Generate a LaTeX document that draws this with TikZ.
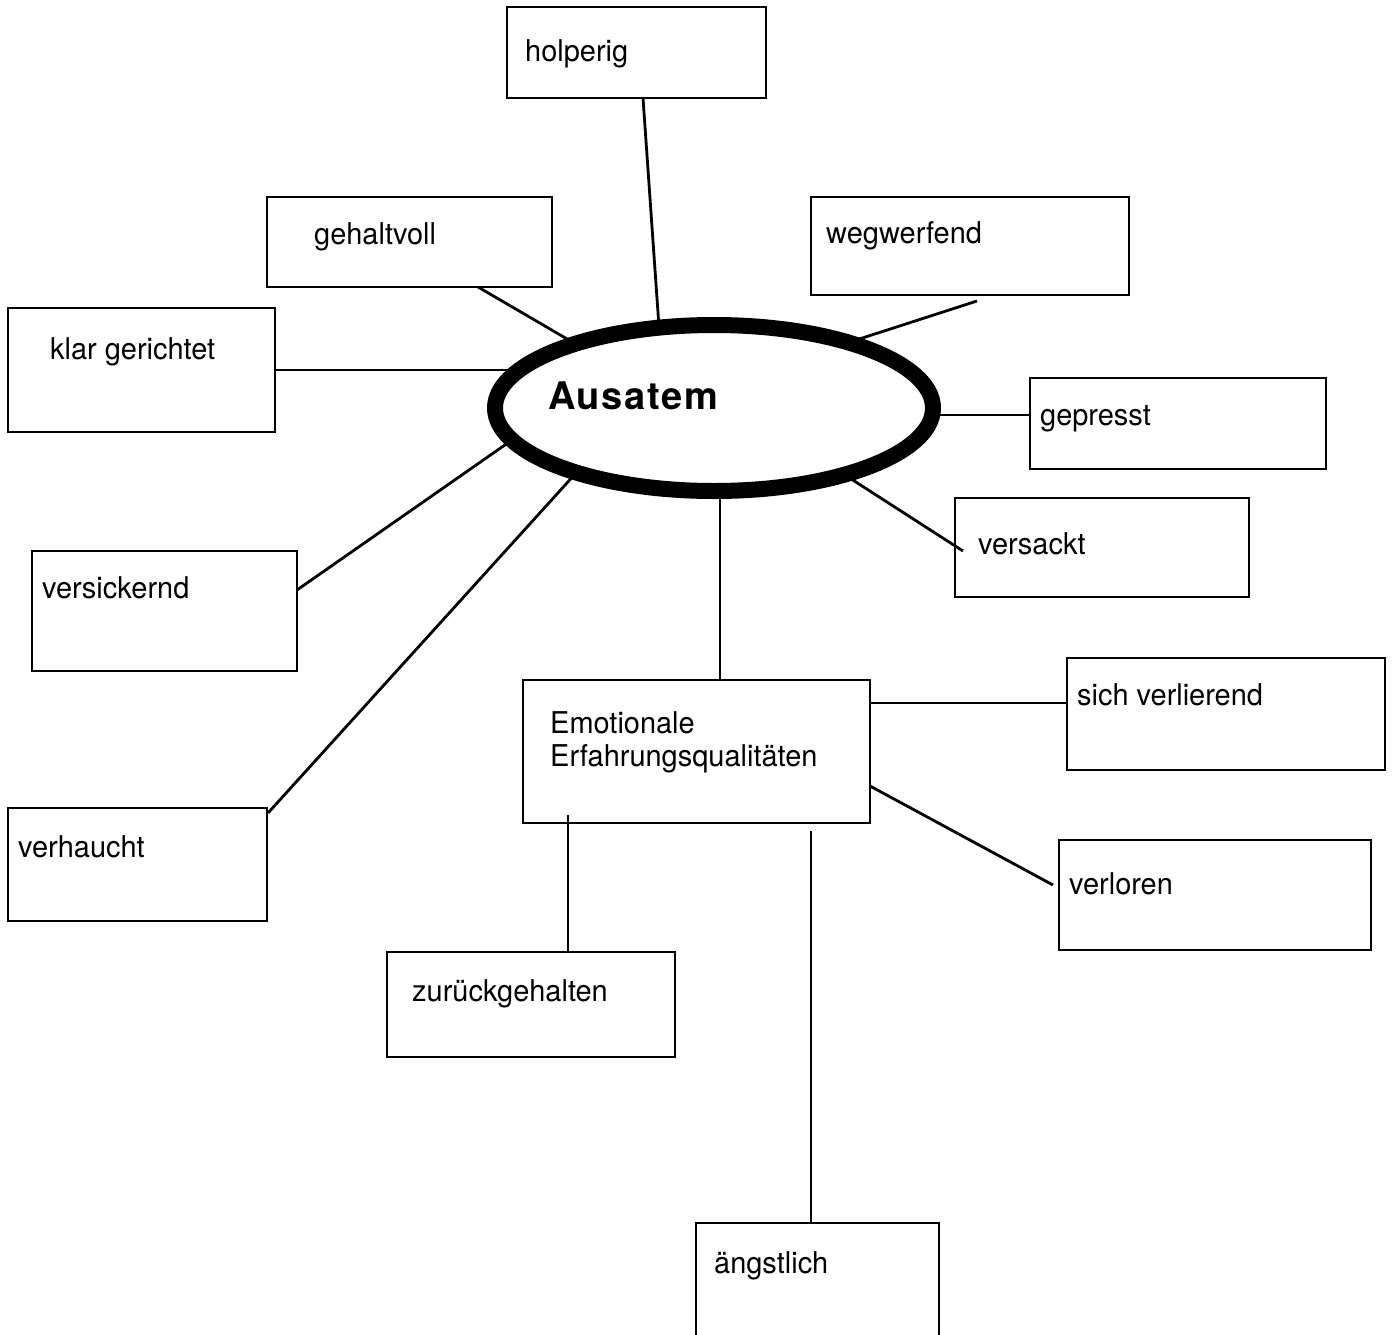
\documentclass[tikz,border=0pt]{standalone}
\usepackage{fontspec}
\setmainfont{TeX Gyre Heros}
\newfontfamily\labelfont[FakeStretch=0.965]{TeX Gyre Heros}
\usetikzlibrary{shapes.geometric,calc}

\begin{document}
\begin{tikzpicture}[x=1pt,y=-1pt,
  box/.style={draw,rectangle,line width=2.8pt,inner sep=0pt,outer sep=0pt,anchor=north west},
  lbl/.style={inner sep=0pt,anchor=base west,font=\labelfont\fontsize{30}{33}\selectfont},
  conn/.style={line width=2.8pt},
  hub/.style={draw,ellipse,line width=16pt,inner sep=0pt,fill=white}]

\useasboundingbox (0,0) rectangle (1398,1334);
\clip (0,0) rectangle (1398,1334);
\fill[white] (0,0) rectangle (1398,1334);

% central ellipse
\node[hub,minimum width=438,minimum height=166] (aus) at (714,408) {};
\node[inner sep=0pt,anchor=base west,font=\fontsize{38}{40}\selectfont\bfseries\addfontfeature{LetterSpace=4.5}] (austxt) at (548,409) {Ausatem};

% boxes
\node[box,minimum width=259,minimum height=91]  (holp) at (507,7) {};
\node[box,minimum width=285,minimum height=90]  (geh)  at (267,197) {};
\node[box,minimum width=267,minimum height=124] (klar) at (8,308) {};
\node[box,minimum width=318,minimum height=98]  (weg)  at (811,197) {};
\node[box,minimum width=296,minimum height=91]  (gep)  at (1030,378) {};
\node[box,minimum width=294,minimum height=99]  (vsa)  at (955,498) {};
\node[box,minimum width=265,minimum height=120] (vsk)  at (32,551) {};
\node[box,minimum width=347,minimum height=143] (emo)  at (523,680) {};
\node[box,minimum width=318,minimum height=112] (svl)  at (1067,658) {};
\node[box,minimum width=259,minimum height=113] (vhc)  at (8,808) {};
\node[box,minimum width=312,minimum height=110] (vlo)  at (1059,840) {};
\node[box,minimum width=288,minimum height=105] (zrh)  at (387,952) {};
\node[box,minimum width=243,minimum height=140] (ang)  at (696,1223) {};

% labels
\node[lbl] (tholp) at (525,61)  {holperig};
\node[lbl] (tgeh)  at (314,244) {gehaltvoll};
\node[lbl] (tklar) at (50,359)  {klar gerichtet};
\node[lbl] (tweg)  at (826,243) {wegwerfend};
\node[lbl] (tgep)  at (1040,425) {gepresst};
\node[lbl] (tvsa)  at (978,554) {versackt};
\node[lbl] (tvsk)  at (42,598)  {versickernd};
\node[lbl] (temo1) at (550,733) {Emotionale};
\node[lbl] (temo2) at (550,766) {Erfahrungsqualitäten};
\node[lbl] (tsvl)  at (1077,705) {sich verlierend};
\node[lbl] (tvhc)  at (18,857)  {verhaucht};
\node[lbl] (tvlo)  at (1069,894) {verloren};
\node[lbl] (tzrh)  at (412,1001) {zurückgehalten};
\node[lbl] (tang)  at (714,1273) {ängstlich};

% connectors to the ellipse
\draw[conn] ($(holp.south west)+(136,0)$) -- ($(aus.center)+(-55,-81)$);
\draw[conn] ($(geh.south west)+(211,0)$) -- ($(aus.center)+(-140,-65)$);
\draw[conn] (klar.east) -- ($(aus.center)+(-196,-38)$);
\draw[conn] ($(weg.south west)+(166,6)$) -- ($(aus.center)+(136,-66)$);
\draw[conn] ($(gep.north west)+(0,37)$) -- ($(aus.center)+(219,7)$);
\draw[conn] ($(vsa.north west)+(8,53)$) -- ($(aus.center)+(131,67)$);
\draw[conn] ($(vsk.north east)+(0,39)$) -- ($(aus.center)+(-202,32)$);
\draw[conn] ($(vhc.north east)+(1,5)$) -- ($(aus.center)+(-138,65)$);
\draw[conn] ($(emo.north west)+(197,0)$) -- ($(aus.center)+(6,83)$);

% connectors from the emotional qualities box
\draw[conn] ($(emo.north east)+(0,23)$) -- ($(svl.north west)+(0,45)$);
\draw[conn] ($(emo.north east)+(0,106)$) -- ($(vlo.north west)+(-6,45)$);
\draw[conn] ($(emo.south west)+(45,-8)$) -- ($(zrh.north west)+(181,0)$);
\draw[conn] ($(emo.south west)+(288,8)$) -- ($(ang.north west)+(115,0)$);

\end{tikzpicture}
\end{document}
